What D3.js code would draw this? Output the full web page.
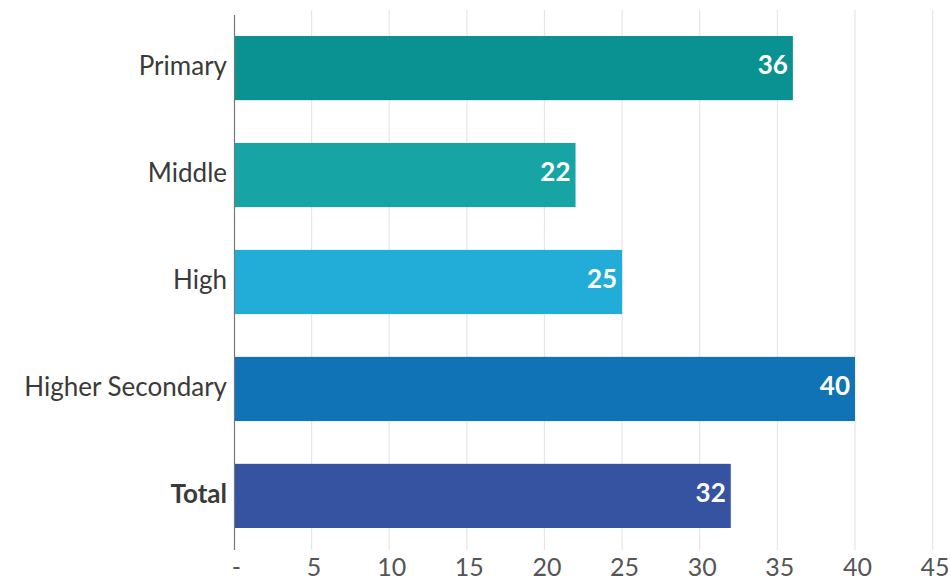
<!DOCTYPE html>
<html><head><meta charset="utf-8">
<script src="https://cdn.jsdelivr.net/npm/d3@7"></script>
<style>body{margin:0;background:#fff}svg{display:block}</style>
</head><body>
<svg id="c" width="951" height="583"></svg>
<script>
const categories = ["Primary","Middle","High","Higher Secondary","Total"];
const values = [36,22,25,40,32];
const colors = ["#0a9191","#17a4a5","#22acd8","#0f73b6","#3553a1"];
const tickValues = [0,5,10,15,20,25,30,35,40,45];

const svg = d3.select("#c");
const x = d3.scaleLinear().domain([0,45]).range([234,932.6]);
const y = d3.scaleBand().domain(categories).range([14.6,549.4]).paddingInner(0.4).paddingOuter(0.2);

// gridlines
svg.append("g").selectAll("line").data(tickValues.slice(1)).join("line")
  .attr("x1",d=>x(d)).attr("x2",d=>x(d)).attr("y1",10).attr("y2",550)
  .attr("stroke","#e6e6e6").attr("stroke-width",1.2);

// bars
svg.append("g").selectAll("rect").data(categories).join("rect")
  .attr("x",x(0)).attr("y",d=>y(d))
  .attr("width",(d,i)=>x(values[i])-x(0)).attr("height",y.bandwidth())
  .attr("fill",(d,i)=>colors[i]);

// value labels
svg.append("g").selectAll("text").data(categories).join("text")
  .attr("x",(d,i)=>x(values[i])-5).attr("y",d=>y(d)+y.bandwidth()/2-3)
  .attr("dy","0.36em").attr("text-anchor","end")
  .attr("font-family","Lato, sans-serif").attr("font-weight","bold").attr("font-size",26)
  .attr("fill","#fff").text((d,i)=>values[i]);

// y axis
const ya = svg.append("g").attr("transform",`translate(${x(0)},0)`)
  .call(d3.axisLeft(y).tickSize(0).tickPadding(7));
ya.select(".domain").attr("stroke","#777").attr("stroke-width",1.2);
ya.selectAll("text").attr("font-family","Lato, sans-serif").attr("font-size",26).attr("fill","#3a3a3a")
  .attr("dy","0.28em")
  .attr("font-weight",d=>d==="Total"?"bold":"normal");

// x axis
const xa = svg.append("g").attr("transform","translate(0,550)")
  .call(d3.axisBottom(x).tickValues(tickValues).tickSize(0).tickPadding(8)
    .tickFormat(d=>d===0?"-":d));
xa.select(".domain").remove();
xa.selectAll("text").attr("font-family","Lato, sans-serif").attr("font-size",25).attr("fill","#555")
  .attr("dx",2);
</script>
</body></html>
